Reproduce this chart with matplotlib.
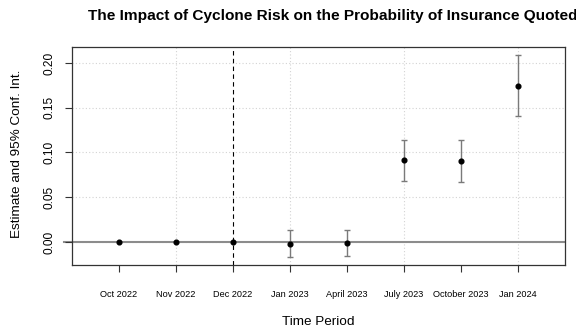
import numpy as np
import matplotlib
matplotlib.use('Agg')
import matplotlib.pyplot as plt

plt.rcParams['font.family'] = ['Liberation Sans', 'DejaVu Sans']

periods = ['Oct 2022', 'Nov 2022', 'Dec 2022', 'Jan 2023', 'April 2023',
           'July 2023', 'October 2023', 'Jan 2024']
est = [0.0, 0.0, 0.0, -0.0018, -0.0007, 0.0911, 0.0903, 0.1744]
ci_lo = [0.0, 0.0, 0.0, -0.0167, -0.0152, 0.0677, 0.0673, 0.1405]
ci_hi = [0.0, 0.0, 0.0, 0.0130, 0.0138, 0.1142, 0.1142, 0.2085]
yticks = [0.00, 0.05, 0.10, 0.15, 0.20]
ref_period = 3

W, H = 576, 334
fig = plt.figure(figsize=(W / 100, H / 100), dpi=100)
ax = fig.add_axes([72 / W, 1 - 265 / H, (565 - 72) / W, (265 - 47.3) / H])

x = np.arange(1, len(periods) + 1)
est = np.array(est); lo = np.array(ci_lo); hi = np.array(ci_hi)

# R-style limits: 4% padding
xr = (0.5, len(periods) + 0.5)
ax.set_xlim(xr[0] - 0.04 * (xr[1] - xr[0]), xr[1] + 0.04 * (xr[1] - xr[0]))
yr = (lo.min(), hi.max())
ax.set_ylim(yr[0] - 0.04 * (yr[1] - yr[0]), yr[1] + 0.04 * (yr[1] - yr[0]))

# grid like R grid()
for gx in [2, 4, 6, 8]:
    ax.axvline(gx, color='#d3d3d3', lw=0.8, ls=(0, (1, 2)), zorder=0)
for gy in yticks:
    ax.axhline(gy, color='#d3d3d3', lw=0.8, ls=(0, (1, 2)), zorder=0)

ax.axhline(0, color='#8c8c8c', lw=1.5, zorder=1, xmin=-8 / 493, clip_on=False)
ax.axvline(ref_period, color='black', lw=0.8, ls=(0, (4, 3)), zorder=1)

has_ci = hi - lo > 0
ax.errorbar(x[has_ci], est[has_ci],
            yerr=[est[has_ci] - lo[has_ci], hi[has_ci] - est[has_ci]],
            fmt='none', ecolor='#7a7a7a', elinewidth=1.0, capsize=2.3,
            capthick=1.0, zorder=2)
ax.plot(x, est, 'o', color='black', markersize=3.4, zorder=3)

ax.set_xticks(x)
ax.set_xticklabels(periods, fontsize=6.6)
ax.set_yticks(yticks)
ax.set_yticklabels([f'{v:.2f}' for v in yticks], fontsize=8.6,
                   rotation=90, va='center')
ax.tick_params(axis='x', length=5, width=0.8, pad=13, colors='#333333',
               labelcolor='black')
ax.tick_params(axis='y', length=5, width=0.8, pad=7, colors='#333333',
               labelcolor='black')
for s in ax.spines.values():
    s.set_linewidth(0.9)
    s.set_color('#333333')

fig.text(88 / W, 1 - 16 / H, 'The Impact of Cyclone Risk on the Probability of Insurance Quoted',
         fontsize=11.1, fontweight='bold', ha='left', va='center')
fig.text(318 / W, 1 - 322 / H, 'Time Period', fontsize=9.7, ha='center', va='center')
fig.text(17 / W, 1 - 154 / H, 'Estimate and 95% Conf. Int.', fontsize=9.7,
         ha='center', va='center', rotation=90)

fig.savefig('out.png', dpi=100)
